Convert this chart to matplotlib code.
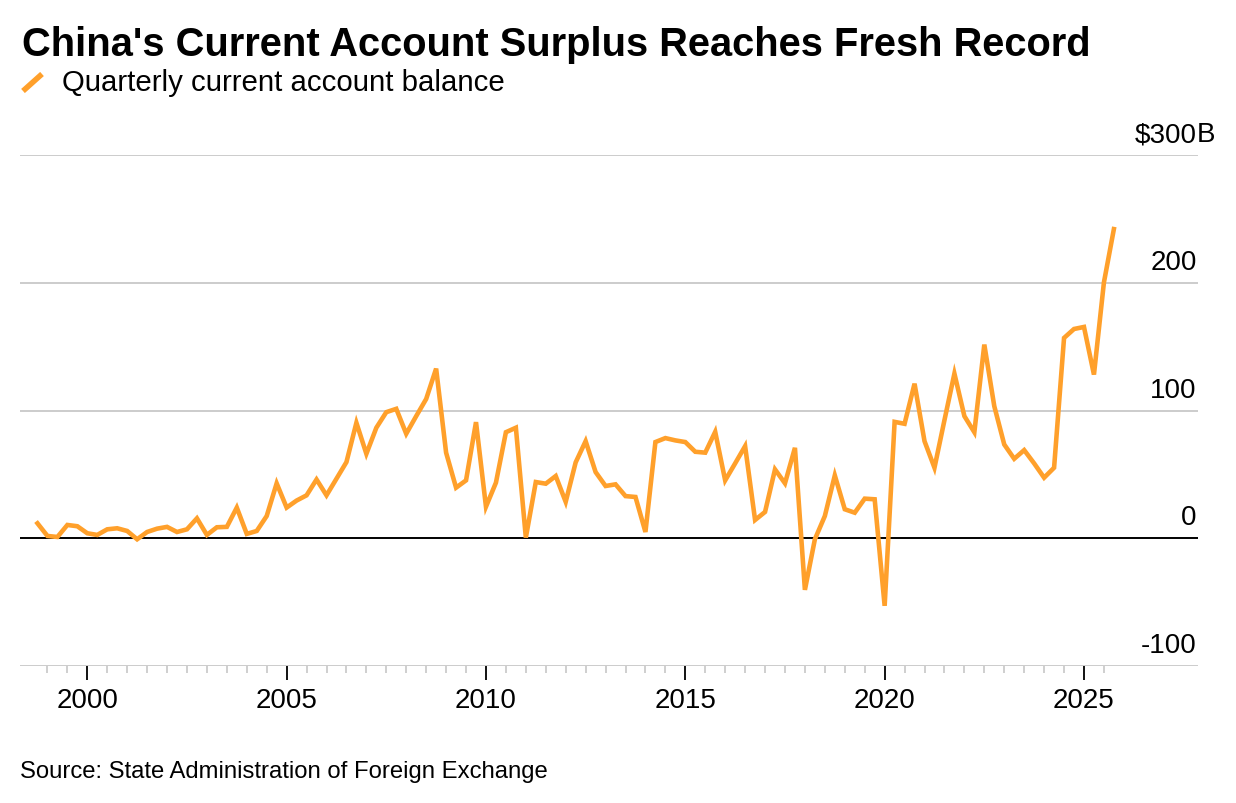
import matplotlib.pyplot as plt
import matplotlib.transforms as mtransforms
import pandas as pd
from matplotlib.lines import Line2D

plt.rcParams['font.family'] = ['Liberation Sans', 'DejaVu Sans']

# Quarterly current account balance, $ billions (Q4 1998 - Q4 2025)
quarters = pd.period_range('1998Q4', '2025Q4', freq='Q')
balance = [
    11.7, 1.8, 1.0, 10.4, 9.4, 3.9, 2.6, 7.0, 7.8, 5.7,
    -0.8, 4.9, 7.5, 8.9, 4.9, 7.0, 15.6, 2.6, 8.6, 8.9,
    24.0, 3.4, 5.7, 17.4, 43.0, 24.0, 29.5, 33.6, 46.0, 33.6,
    46.6, 59.6, 90.4, 66.1, 86.5, 98.7, 101.3, 81.8, 95.6, 109.0,
    132.8, 67.0, 39.6, 45.3, 90.9, 24.7, 43.5, 83.0, 86.5, 0.5,
    44.0, 42.7, 48.7, 28.5, 59.4, 76.0, 51.8, 40.9, 42.2, 33.0,
    32.3, 4.9, 75.3, 78.4, 76.6, 75.3, 67.7, 67.0, 83.3, 45.3,
    58.6, 72.1, 14.3, 20.6, 53.9, 43.0, 70.8, -40.4, -0.8, 17.4,
    49.2, 22.7, 20.0, 31.0, 30.5, -52.9, 91.1, 89.6, 121.0, 76.0,
    55.2, 92.4, 128.9, 95.6, 83.0, 151.6, 103.4, 73.4, 62.2, 69.0,
    58.6, 47.4, 55.2, 156.8, 163.8, 165.4, 128.1, 200.2, 242.0,
]
x = [q.year + (q.quarter - 1) / 4 for q in quarters]

grid_values = [-100, 100, 200, 300]
y_labels = {-100: '-100', 0: '0', 100: '100', 200: '200', 300: '$300'}
major_years = [2000, 2005, 2010, 2015, 2020, 2025]
minor_years = [h / 2 for h in range(3998, 4052) if (h / 2) not in major_years]

ORANGE = '#ffa02b'
W, H = 1236, 804

fig = plt.figure(figsize=(W / 100, H / 100), dpi=100)
ax = fig.add_axes([20 / W, 1 - 667 / H, 1178 / W, (667 - 156) / H])

for s in ax.spines.values():
    s.set_visible(False)

for v in grid_values:
    ax.axhline(v, color='#cccccc', lw=1.4, zorder=1)
ax.axhline(0, color='black', lw=1.4, zorder=2)

ax.plot(x, balance, color=ORANGE, lw=3.3, zorder=3, solid_joinstyle='miter')

ax.set_yticks([])
ax.set_xticks(major_years)
ax.set_xticklabels([str(y) for y in major_years])
ax.set_xticks(minor_years, minor=True)
ax.tick_params(axis='x', which='major', length=10, width=1.3, color='black',
               labelsize=20, pad=5)
ax.tick_params(axis='x', which='minor', length=5, width=1.3, color='#cccccc')
ax.set_xlim(1998.312, 2027.86)
ax.set_ylim(-100, 300)

# y labels sit above gridlines at the right edge
trans = mtransforms.offset_copy(ax.get_yaxis_transform(), fig=fig, x=-1, y=10, units='points')
for v, lab in y_labels.items():
    ax.text(1.0, v, lab, transform=trans, ha='right', va='baseline', fontsize=20, color='black')
ax.text(1.0, 300, 'B', transform=trans, ha='left', va='baseline', fontsize=20, color='black')

fig.text(22 / W, 1 - 56 / H, "China's Current Account Surplus Reaches Fresh Record",
         fontsize=28.7, fontweight='bold', ha='left', va='baseline')
fig.text(62 / W, 1 - 91 / H, 'Quarterly current account balance',
         fontsize=21.2, ha='left', va='baseline')
fig.add_artist(Line2D([23 / W, 42 / W], [1 - 92 / H, 1 - 75 / H], color=ORANGE,
                      lw=4, solid_capstyle='butt', transform=fig.transFigure))
fig.text(20 / W, 1 - 778 / H, 'Source: State Administration of Foreign Exchange',
         fontsize=17.2, ha='left', va='baseline')

fig.savefig('out.png', dpi=100)
